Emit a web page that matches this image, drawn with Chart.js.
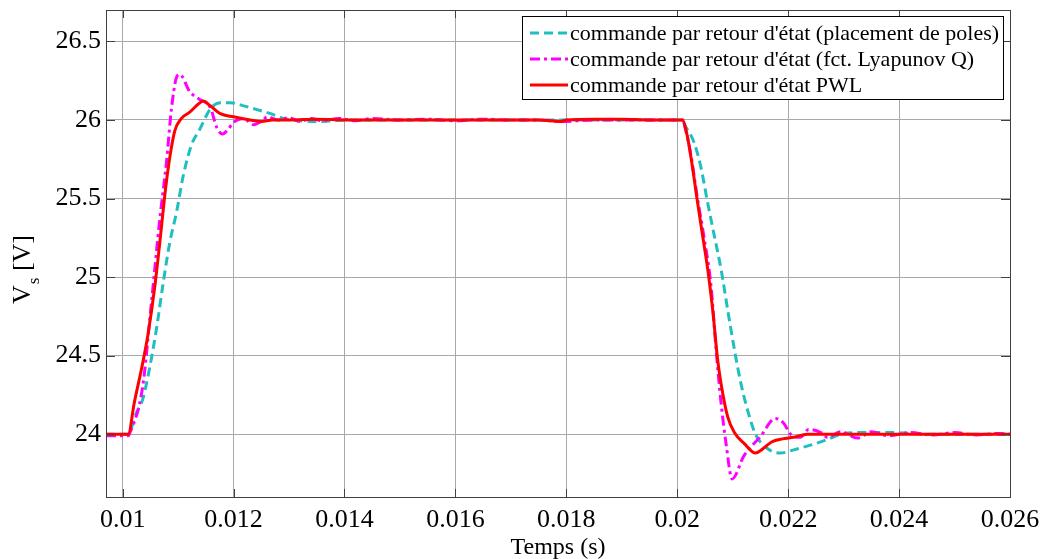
<!DOCTYPE html>
<html>
<head>
<meta charset="utf-8">
<script src="https://cdn.jsdelivr.net/npm/chart.js@4.4.0/dist/chart.umd.min.js"></script>
<style>
  html, body { margin: 0; padding: 0; background: #fff; }
  #wrap { width: 1043px; height: 559px; position: relative; }
</style>
</head>
<body>
<div id="wrap"><canvas id="vs-chart"></canvas></div>
<script>
// axes
const xTicks = [0.01, 0.012, 0.014, 0.016, 0.018, 0.02, 0.022, 0.024, 0.026];
const xTickLabels = ["0.01", "0.012", "0.014", "0.016", "0.018", "0.02", "0.022", "0.024", "0.026"];
const yTicks = [24, 24.5, 25, 25.5, 26, 26.5];
const yTickLabels = ["24", "24.5", "25", "25.5", "26", "26.5"];

const seriesLabels = [
  "commande par retour d'état (placement de poles)",
  "commande par retour d'état (fct. Lyapunov Q)",
  "commande par retour d'état PWL"
];

// placement de poles (cyan)
const tPoles = [0.0097, 0.0101, 0.01024, 0.01036, 0.01048, 0.01061, 0.01073, 0.01085, 0.01097, 0.01109,
  0.01124, 0.01139, 0.01158, 0.01176, 0.01194, 0.01218, 0.01248, 0.01267, 0.0129, 0.0132, 0.0136, 0.014,
  0.015, 0.016, 0.017, 0.018, 0.019, 0.0201, 0.02012, 0.0203, 0.02042, 0.02055, 0.02067, 0.02079, 0.02091,
  0.02103, 0.02115, 0.02127, 0.02141, 0.02162, 0.02186, 0.0221, 0.0224, 0.0227, 0.02295, 0.0233, 0.0239,
  0.0245, 0.026];
const vPoles = [24.0, 24.0, 24.13, 24.22, 24.41, 24.67, 24.96, 25.22, 25.41, 25.64,
  25.84, 25.94, 26.07, 26.11, 26.11, 26.09, 26.06, 26.04, 26.01, 25.995, 25.99, 26.0,
  26.0, 26.0, 26.0, 26.0, 26.0, 26.0, 25.98, 25.86, 25.71, 25.47, 25.26, 25.05, 24.79,
  24.54, 24.32, 24.15, 24.0, 23.91, 23.88, 23.9, 23.93, 23.965, 24.0, 24.01, 24.01,
  24.0, 24.0];

// fct. Lyapunov Q (magenta)
const tLyap = [0.0097, 0.0101, 0.01012, 0.01036, 0.01052, 0.01067, 0.01079, 0.01088, 0.01097, 0.01103,
  0.01121, 0.01139, 0.01158, 0.0117, 0.0118, 0.0119, 0.012, 0.01218, 0.01236, 0.0125, 0.01261, 0.0128,
  0.013, 0.0132, 0.0134, 0.0136, 0.0139, 0.0142, 0.0145, 0.015, 0.0155, 0.016, 0.0165, 0.017, 0.0175,
  0.0179, 0.0185, 0.0195, 0.0201, 0.02012, 0.02024, 0.02036, 0.02048, 0.02061, 0.0207, 0.02079, 0.02088,
  0.02099, 0.0212, 0.0215, 0.02177, 0.02192, 0.02204, 0.02222, 0.02237, 0.02259, 0.02271, 0.02295,
  0.02325, 0.0235, 0.0238, 0.0242, 0.0246, 0.025, 0.0254, 0.0258, 0.026];
const vLyap = [23.99, 23.99, 24.0, 24.3, 24.84, 25.37, 25.73, 26.07, 26.27, 26.29,
  26.18, 26.13, 26.08, 25.95, 25.91, 25.94, 25.985, 26.01, 25.97, 25.99, 26.02, 26.0,
  26.015, 25.99, 26.01, 25.995, 26.01, 25.995, 26.01, 26.0, 26.005, 25.995, 26.005, 26.0, 26.0,
  25.99, 26.0, 26.0, 26.0, 25.98, 25.79, 25.51, 25.26, 24.94, 24.54, 24.2, 23.94,
  23.715, 23.86, 23.985, 24.1, 24.07, 24.0, 23.98, 24.03, 24.01, 23.98, 24.015,
  23.975, 24.015, 23.99, 24.01, 23.995, 24.01, 23.995, 24.005, 24.0];

// PWL (red)
const tPwl = [0.0097, 0.0101, 0.01021, 0.01036, 0.01045, 0.01058, 0.01067, 0.01076, 0.01082, 0.01094,
  0.01106, 0.01121, 0.01136, 0.01145, 0.01158, 0.01176, 0.012, 0.0123, 0.0125, 0.0127, 0.013, 0.0135,
  0.014, 0.0145, 0.015, 0.016, 0.017, 0.0175, 0.0179, 0.018, 0.0185, 0.019, 0.0195, 0.02, 0.02009,
  0.02018, 0.02027, 0.02036, 0.02045, 0.02055, 0.02064, 0.02073, 0.02082, 0.02091, 0.02103, 0.02121,
  0.02141, 0.02152, 0.0217, 0.0219, 0.0221, 0.02234, 0.0226, 0.023, 0.024, 0.025, 0.026];
const vPwl = [24.0, 24.0, 24.2, 24.45, 24.62, 24.94, 25.22, 25.52, 25.69, 25.93,
  26.01, 26.05, 26.1, 26.12, 26.09, 26.04, 26.02, 26.0, 25.99, 26.0, 26.0, 26.005,
  26.0, 26.0, 26.0, 26.0, 26.0, 26.0, 25.99, 26.0, 26.005, 26.005, 26.0, 26.0, 26.0,
  25.9, 25.71, 25.49, 25.28, 25.05, 24.79, 24.47, 24.26, 24.11, 24.01, 23.94,
  23.88, 23.9, 23.95, 23.97, 23.98, 24.0, 24.0, 24.0, 24.0, 24.0, 24.0];

const toPoints = (ts, vs) => ts.map((t, i) => ({ x: t, y: vs[i] }));

const serif = "'Liberation Serif', 'Times New Roman', serif";

// boite, graduations interieures, titres et legende facon matlab
const matlabFrame = {
  id: "matlabFrame",
  afterDraw(chart) {
    const { ctx, chartArea: a, scales } = chart;
    ctx.save();
    ctx.strokeStyle = "#404040";
    ctx.lineWidth = 1;
    ctx.strokeRect(a.left + 0.5, a.top + 0.5, a.right - a.left, a.bottom - a.top);
    ctx.beginPath();
    xTicks.forEach(v => {
      const px = Math.round(scales.x.getPixelForValue(v)) + 0.5;
      ctx.moveTo(px, a.bottom); ctx.lineTo(px, a.bottom - 8);
      ctx.moveTo(px, a.top); ctx.lineTo(px, a.top + 8);
    });
    yTicks.forEach(v => {
      const py = Math.round(scales.y.getPixelForValue(v)) + 0.5;
      ctx.moveTo(a.left, py); ctx.lineTo(a.left + 9, py);
      ctx.moveTo(a.right, py); ctx.lineTo(a.right - 9, py);
    });
    ctx.stroke();

    // titre x
    ctx.fillStyle = "#000";
    ctx.font = "24px " + serif;
    ctx.textAlign = "center";
    ctx.textBaseline = "alphabetic";
    ctx.fillText("Temps (s)", (a.left + a.right) / 2, 554);

    // titre y : V_s [V]
    ctx.translate(30, 270);
    ctx.rotate(-Math.PI / 2);
    ctx.textAlign = "left";
    ctx.font = "26px " + serif;
    const wV = ctx.measureText("V").width;
    ctx.font = "17px " + serif;
    const wS = ctx.measureText("s").width;
    ctx.font = "26px " + serif;
    const wB = ctx.measureText(" [V]").width;
    let x0 = -(wV + wS + wB) / 2;
    ctx.fillText("V", x0, 0);
    ctx.font = "17px " + serif;
    ctx.fillText("s", x0 + wV + 1, 9);
    ctx.font = "26px " + serif;
    ctx.fillText(" [V]", x0 + wV + wS + 1, 0);
    ctx.restore();

    // legende
    ctx.save();
    const lx = 522, ly = 16, lw = 481, lh = 83;
    ctx.fillStyle = "#fff";
    ctx.fillRect(lx, ly, lw, lh);
    ctx.strokeStyle = "#000";
    ctx.lineWidth = 1;
    ctx.strokeRect(lx + 0.5, ly + 0.5, lw, lh);
    ctx.font = "22px " + serif;
    ctx.textBaseline = "middle";
    ctx.fillStyle = "#000";
    const rows = [33, 59, 85];
    chart.data.datasets.forEach((ds, i) => {
      const y = rows[i];
      ctx.beginPath();
      ctx.strokeStyle = ds.borderColor;
      ctx.lineWidth = ds.borderWidth;
      ctx.setLineDash(ds.borderDash || []);
      ctx.moveTo(530, y); ctx.lineTo(568, y);
      ctx.stroke();
      ctx.setLineDash([]);
      ctx.fillText(ds.label, 570, y + 1);
    });
    ctx.restore();
  }
};

new Chart(document.getElementById("vs-chart"), {
  type: "line",
  data: {
    datasets: [
      {
        label: seriesLabels[0],
        data: toPoints(tPoles, vPoles),
        borderColor: "#1fbfbf",
        borderWidth: 3,
        borderDash: [9, 5],
        pointRadius: 0,
        cubicInterpolationMode: "monotone",
        order: 3
      },
      {
        label: seriesLabels[1],
        data: toPoints(tLyap, vLyap),
        borderColor: "#ff00ff",
        borderWidth: 3,
        borderDash: [10, 4, 3, 4],
        pointRadius: 0,
        cubicInterpolationMode: "monotone",
        order: 2
      },
      {
        label: seriesLabels[2],
        data: toPoints(tPwl, vPwl),
        borderColor: "#ff0000",
        borderWidth: 3,
        pointRadius: 0,
        cubicInterpolationMode: "monotone",
        order: 1
      }
    ]
  },
  options: {
    responsive: true,
    maintainAspectRatio: false,
    animation: false,
    layout: { padding: { top: 10, right: 33, left: 0, bottom: 0 } },
    plugins: { legend: { display: false }, tooltip: { enabled: false } },
    scales: {
      x: {
        type: "linear",
        min: 0.0097,
        max: 0.026,
        afterBuildTicks: s => { s.ticks = xTicks.map(v => ({ value: v })); },
        afterFit: s => { s.height = 62; s.paddingLeft = 0; s.paddingRight = 0; },
        grid: { color: "#a8a8a8", lineWidth: 1, drawTicks: false },
        border: { display: false },
        ticks: {
          padding: 8,
          color: "#000",
          font: { family: serif, size: 26 },
          maxRotation: 0,
          callback: (v, i) => xTickLabels[i]
        }
      },
      y: {
        min: 23.6,
        max: 26.7,
        afterBuildTicks: s => { s.ticks = yTicks.map(v => ({ value: v })); },
        afterFit: s => { s.width = 106; s.paddingTop = 0; s.paddingBottom = 0; },
        grid: { color: "#a8a8a8", lineWidth: 1, drawTicks: false },
        border: { display: false },
        ticks: {
          padding: 5,
          color: "#000",
          font: { family: serif, size: 26 },
          callback: (v, i) => yTickLabels[i]
        }
      }
    }
  },
  plugins: [matlabFrame]
});
</script>
</body>
</html>
